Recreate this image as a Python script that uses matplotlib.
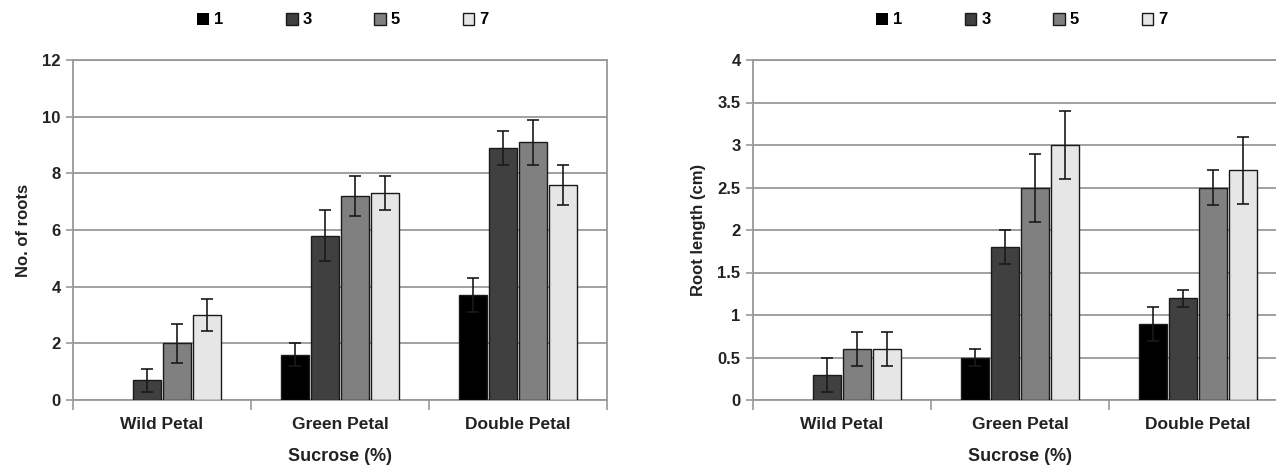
import matplotlib.pyplot as plt
import numpy as np

plt.rcParams['font.family'] = ['Liberation Sans Narrow', 'Liberation Sans', 'DejaVu Sans']

categories = ['Wild Petal', 'Green Petal', 'Double Petal']
series = ['1', '3', '5', '7']
colors = ['#000000', '#404040', '#808080', '#e6e6e6']

# No. of roots, one list per sucrose level (values per category)
roots = [[0, 1.6, 3.7], [0.7, 5.8, 8.9], [2.0, 7.2, 9.1], [3.0, 7.3, 7.6]]
roots_err = [[0, 0.4, 0.6], [0.4, 0.9, 0.6], [0.7, 0.7, 0.8], [0.55, 0.6, 0.7]]

# Root length (cm)
length = [[0, 0.5, 0.9], [0.3, 1.8, 1.2], [0.6, 2.5, 2.5], [0.6, 3.0, 2.7]]
length_err = [[0, 0.1, 0.2], [0.2, 0.2, 0.1], [0.2, 0.4, 0.2], [0.2, 0.4, 0.4]]

fig = plt.figure(figsize=(12.76, 4.66), dpi=100)
ax1 = fig.add_axes([73 / 1276, 66 / 466, 534 / 1276, 340 / 466])
ax2 = fig.add_axes([753 / 1276, 66 / 466, 534 / 1276, 340 / 466])

x = np.arange(len(categories))
step = 0.168
width = 0.155


def draw(ax, vals, errs, ymax, ystep, ylabel, fmt):
    handles = []
    for i, name in enumerate(series):
        pos = x + (i - 1.5) * step
        v = np.array(vals[i])
        lw = [1.0 if a > 0 else 0 for a in v]
        b = ax.bar(pos, v, width, color=colors[i], edgecolor='#1a1a1a',
                   linewidth=lw, label=name, zorder=3)
        handles.append(b)
        keep = v > 0
        ax.errorbar(pos[keep], v[keep], yerr=np.array(errs[i])[keep],
                    fmt='none', ecolor='#1a1a1a', elinewidth=1.2, capsize=4,
                    capthick=1.2, zorder=4)
    ax.set_xlim(-0.5, 2.5)
    ax.set_ylim(0, ymax)
    ticks = np.arange(0, ymax + ystep / 2, ystep)
    ax.set_yticks(ticks)
    ax.set_yticklabels([fmt(t) for t in ticks], fontsize=12, fontweight='bold',
                       color='#222222')
    ax.yaxis.grid(True, color='#999999', linewidth=1.3, zorder=0)
    ax.set_axisbelow(True)
    ax.set_xticks(x)
    ax.set_xticklabels(categories, fontsize=12.5, fontweight='bold', color='#222222')
    ax.tick_params(axis='x', length=0, pad=12)
    ax.tick_params(axis='y', length=5, color='#999999', width=1.2, pad=4)
    ax.set_xticks([-0.5, 0.5, 1.5, 2.5], minor=True)
    ax.tick_params(axis='x', which='minor', length=7, color='#999999', width=1.2,
                   direction='out')
    for s in ax.spines.values():
        s.set_color('#999999')
        s.set_linewidth(1.3)
    ax.set_xlabel('Sucrose (%)', fontsize=13, fontweight='bold', color='#222222',
                  labelpad=12)
    ax.set_ylabel(ylabel, fontsize=12, fontweight='bold', color='#222222', labelpad=8)
    return handles


h1 = draw(ax1, roots, roots_err, 12, 2, 'No. of roots', lambda t: '%d' % t)
h2 = draw(ax2, length, length_err, 4, 0.5, 'Root length (cm)',
          lambda t: ('%g' % t))

leg_kw = dict(ncol=4, frameon=False, handlelength=0.7, handleheight=0.7,
              handletextpad=0.3, columnspacing=3.75, prop={'weight': 'bold', 'size': 12})
fig.legend(h1, series, loc='center', bbox_to_anchor=(343 / 1276, 1 - 20 / 466), **leg_kw)
fig.legend(h2, series, loc='center', bbox_to_anchor=(1022 / 1276, 1 - 20 / 466), **leg_kw)

fig.savefig('out.png', dpi=100)
